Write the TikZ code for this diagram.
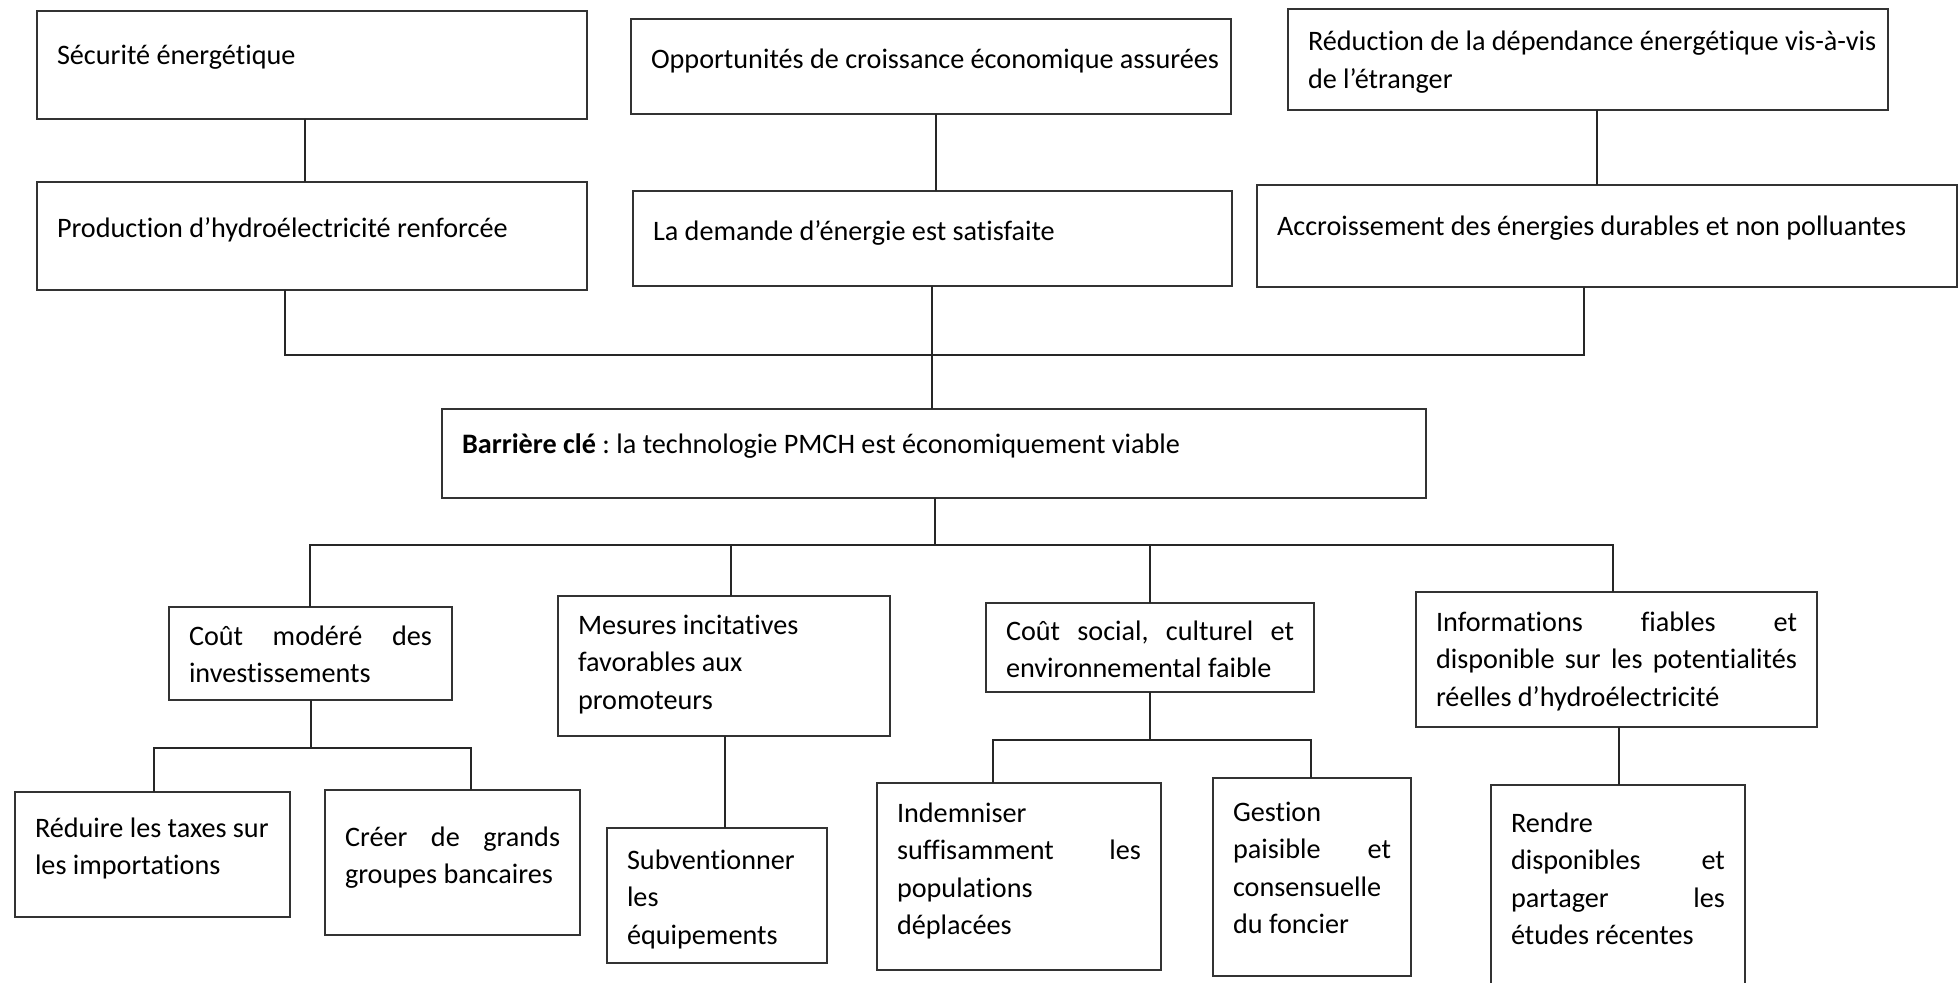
\documentclass[tikz,border=0pt]{standalone}
\usepackage{fontspec}
\setmainfont{Carlito}[Ligatures=CommonOff]
\frenchspacing

% one drawing unit = 0.5pt
\newdimen\pxu \pxu=0.5pt
\newcommand\strutx{\vrule height 20pt depth 0pt width 0pt}
% a left-aligned line and a justified line inside a box
\newcommand\lline[1]{\hbox to \hsize{\strutx\hskip10pt #1\hfil}}
\newcommand\jline[1]{\hbox to \hsize{\strutx\hskip10pt #1\hskip10pt}}
% \boxnode{name}{x1}{y1}{x2}{y2}{first baseline below top}{lines}
\newcommand\boxnode[7]{%
  \node[bx] (#1) at (#2,#3) {\vbox to \dimexpr\pxu*\numexpr#5-#3\relax\relax{%
      \hsize=\dimexpr\pxu*\numexpr#4-#2\relax\relax
      \baselineskip=18.75pt\lineskiplimit=-100pt\lineskip=0pt
      \kern\dimexpr\pxu*#6-18pt\relax
      #7\vss}};}

\tikzset{
  bx/.style={draw=black!80, line width=0.7pt, inner sep=0pt, outer sep=0pt,
    anchor=north west, font=\fontsize{14.1}{18.75}\selectfont},
  ln/.style={draw=black!85, line width=0.7pt}
}

\begin{document}
\begin{tikzpicture}[x=0.5pt, y=-0.5pt]
\useasboundingbox (0,0) rectangle (1959,983);
\fill[white] (0,0) rectangle (1959,983);

% effects
\boxnode{sec}{37}{11}{587}{119}{50}{\lline{Sécurité énergétique}}
\boxnode{opp}{631}{19}{1231}{114}{46}{\lline{Opportunités de croissance économique assurées}}
\boxnode{red}{1288}{9}{1888}{110}{38}{\lline{Réduction de la dépendance énergétique vis-à-vis}\lline{de l’étranger}}

\boxnode{prod}{37}{182}{587}{290}{52}{\lline{Production d’hydroélectricité renforcée}}
\boxnode{dem}{633}{191}{1232}{286}{46}{\lline{La demande d’énergie est satisfaite}}
\boxnode{acc}{1257}{185}{1957}{287}{47}{\lline{Accroissement des énergies durables et non polluantes}}

% key barrier
\boxnode{bar}{442}{409}{1426}{498}{41}{\lline{\textbf{Barrière clé} : la technologie PMCH est économiquement viable}}

% conditions
\boxnode{cout}{169}{607}{452}{700}{34}{\jline{Coût\hfill modéré\hfill des}\lline{investissements}}
\boxnode{mes}{558}{596}{890}{736}{34}{\lline{Mesures incitatives}\lline{favorables aux}\lline{promoteurs}}
\boxnode{soc}{986}{603}{1314}{692}{33}{\jline{Coût\hfill social,\hfill culturel\hfill et}\lline{environnemental faible}}
\boxnode{inf}{1416}{592}{1817}{727}{35}{\jline{Informations\hfill fiables\hfill et}\jline{disponible\hfill sur\hfill les\hfill potentialités}\lline{réelles d’hydroélectricité}}

% actions
\boxnode{tax}{15}{792}{290}{917}{41}{\lline{Réduire les taxes sur}\lline{les importations}}
\boxnode{ban}{325}{790}{580}{935}{52}{\jline{Créer\hfill de\hfill grands}\lline{groupes bancaires}}
\boxnode{sub}{607}{828}{827}{963}{37}{\lline{Subventionner}\lline{les}\lline{équipements}}
\boxnode{ind}{877}{783}{1161}{970}{35}{\lline{Indemniser}\jline{suffisamment\hfill les}\lline{populations}\lline{déplacées}}
\boxnode{ges}{1213}{778}{1411}{976}{39}{\lline{Gestion}\jline{paisible\hfill et}\lline{consensuelle}\lline{du foncier}}
\boxnode{ren}{1491}{785}{1745}{995}{43}{\lline{Rendre}\jline{disponibles\hfill et}\jline{partager\hfill les}\lline{études récentes}}

% junction points
\coordinate (c1) at (305,0);
\coordinate (c2) at (936,0);
\coordinate (c3) at (1597,0);
\coordinate (c4) at (932,0);
\coordinate (tL) at (285,355);
\coordinate (tR) at (1584,355);
\coordinate (mC) at (935,545);
\coordinate (mL) at (310,545);
\coordinate (m2) at (731,545);
\coordinate (m3) at (1150,545);
\coordinate (mR) at (1613,545);
\coordinate (nC) at (311,748);
\coordinate (nL) at (154,748);
\coordinate (nR) at (471,748);
\coordinate (c5) at (725,0);
\coordinate (pC) at (1150,740);
\coordinate (pL) at (993,740);
\coordinate (pR) at (1311,740);
\coordinate (c6) at (1619,0);

% upper links
\draw[ln] (sec.south -| c1) -- (prod.north -| c1);
\draw[ln] (opp.south -| c2) -- (dem.north -| c2);
\draw[ln] (red.south -| c3) -- (acc.north -| c3);
\draw[ln] (prod.south -| tL) |- (tR) -- (acc.south -| tR);
\draw[ln] (dem.south -| c4) -- (bar.north -| c4);

% links below the barrier
\draw[ln] (bar.south -| mC) -- (mC);
\draw[ln] (cout.north -| mL) |- (mR) -- (inf.north -| mR);
\draw[ln] (m2) -- (mes.north -| m2);
\draw[ln] (m3) -- (soc.north -| m3);

% links to the actions
\draw[ln] (cout.south -| nC) -- (nC);
\draw[ln] (tax.north -| nL) |- (nR) -- (ban.north -| nR);
\draw[ln] (mes.south -| c5) -- (sub.north -| c5);
\draw[ln] (soc.south -| pC) -- (pC);
\draw[ln] (ind.north -| pL) |- (pR) -- (ges.north -| pR);
\draw[ln] (inf.south -| c6) -- (ren.north -| c6);
\end{tikzpicture}
\end{document}
